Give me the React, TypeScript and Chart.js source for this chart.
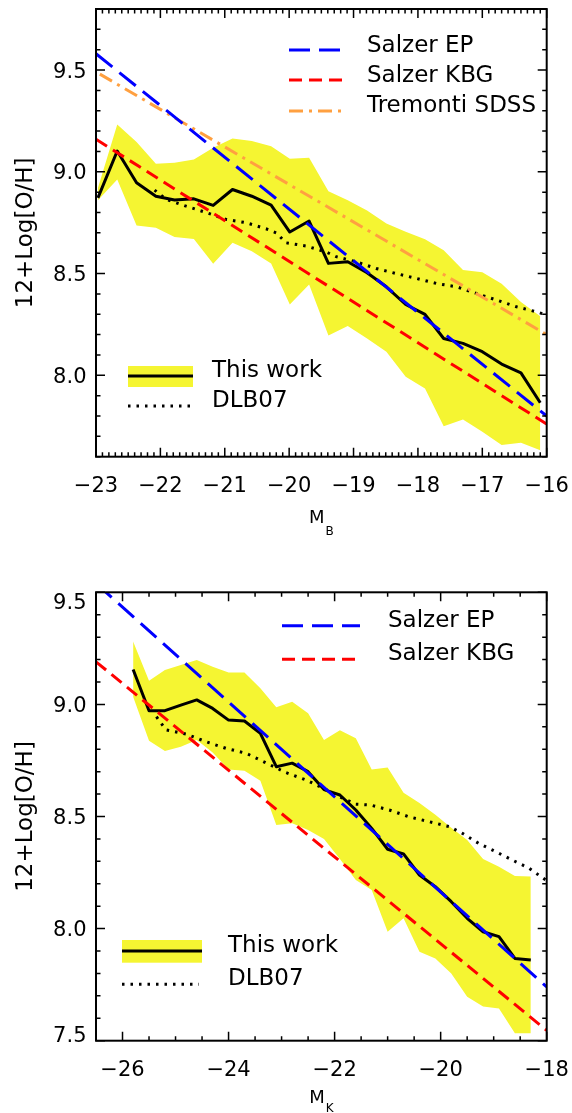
import React, { useEffect, useRef } from "react";
import { Chart, registerables } from "chart.js";
Chart.register(...registerables);

// ---------- Panel 1 : M_B ----------
const mbX = [-22.97, -22.67, -22.37, -22.07, -21.78, -21.48, -21.18, -20.88, -20.58, -20.28, -19.99, -19.69, -19.39, -19.09, -18.79, -18.49, -18.19, -17.89, -17.6, -17.3, -17.0, -16.7, -16.4, -16.1];
const mbLine = [8.872, 9.102, 8.946, 8.88, 8.861, 8.867, 8.835, 8.913, 8.88, 8.836, 8.704, 8.758, 8.55, 8.558, 8.504, 8.435, 8.348, 8.299, 8.181, 8.157, 8.116, 8.055, 8.012, 7.865];
const mbUpper = [8.92, 9.233, 9.146, 9.039, 9.044, 9.06, 9.118, 9.164, 9.151, 9.126, 9.064, 9.069, 8.905, 8.86, 8.81, 8.746, 8.705, 8.668, 8.615, 8.518, 8.506, 8.45, 8.36, 8.29];
const mbLower = [8.86, 8.962, 8.736, 8.725, 8.68, 8.67, 8.548, 8.651, 8.61, 8.55, 8.348, 8.446, 8.195, 8.242, 8.181, 8.116, 7.993, 7.935, 7.75, 7.783, 7.722, 7.657, 7.668, 7.632];
const mbDlbX = [-22.09, -21.91, -21.6, -21.29, -20.98, -20.67, -20.36, -20.2, -20.05, -19.73, -19.42, -19.27, -18.96, -18.65, -18.34, -18.02, -17.71, -17.4, -17.09, -16.78, -16.47, -16.16, -16.0];
const mbDlbY = [8.91, 8.864, 8.831, 8.8, 8.766, 8.75, 8.72, 8.70, 8.651, 8.635, 8.605, 8.583, 8.558, 8.525, 8.5, 8.476, 8.451, 8.435, 8.402, 8.37, 8.337, 8.312, 8.296];
const mbEpX = [-23, -16];
const mbEpY = [9.58, 7.8];
const mbKbgX = [-23, -16];
const mbKbgY = [9.16, 7.76];
const mbTremX = [-22.94, -16];
const mbTremY = [9.48, 8.2];
const mbXTicks = [-23, -22, -21, -20, -19, -18, -17, -16];
const mbYTicks = [8.0, 8.5, 9.0, 9.5];

// ---------- Panel 2 : M_K ----------
const mkX = [-25.8, -25.5, -25.2, -24.9, -24.6, -24.3, -24.0, -23.7, -23.4, -23.1, -22.8, -22.5, -22.2, -21.9, -21.6, -21.3, -21.0, -20.7, -20.4, -20.1, -19.8, -19.5, -19.2, -18.9, -18.6, -18.3];
const mkLine = [9.156, 8.972, 8.972, 8.997, 9.02, 8.982, 8.93, 8.926, 8.871, 8.722, 8.738, 8.7, 8.62, 8.596, 8.529, 8.447, 8.354, 8.333, 8.239, 8.187, 8.12, 8.046, 7.986, 7.964, 7.867, 7.86];
const mkUpper = [9.28, 9.106, 9.153, 9.176, 9.198, 9.168, 9.142, 9.142, 9.072, 8.987, 9.012, 8.96, 8.841, 8.885, 8.849, 8.71, 8.719, 8.606, 8.56, 8.508, 8.45, 8.395, 8.31, 8.276, 8.235, 8.232];
const mkLower = [9.034, 8.838, 8.792, 8.811, 8.841, 8.785, 8.71, 8.704, 8.66, 8.462, 8.47, 8.44, 8.4, 8.31, 8.217, 8.172, 7.986, 8.046, 7.897, 7.867, 7.8, 7.696, 7.652, 7.644, 7.533, 7.533];
const mkDlbX = [-25.36, -25.18, -24.8, -24.43, -24.05, -23.67, -23.3, -22.92, -22.54, -22.17, -21.98, -21.6, -21.32, -20.97, -20.6, -20.22, -19.84, -19.59, -19.28, -18.96, -18.65, -18.33, -18.02];
const mkDlbY = [8.945, 8.886, 8.868, 8.834, 8.804, 8.782, 8.74, 8.696, 8.663, 8.621, 8.596, 8.555, 8.551, 8.529, 8.499, 8.477, 8.455, 8.425, 8.38, 8.343, 8.306, 8.269, 8.217];
const mkEpX = [-26.5, -18];
const mkEpY = [9.54, 7.74];
const mkKbgX = [-26.5, -18];
const mkKbgY = [9.19, 7.546];
const mkXTicks = [-26, -24, -22, -20, -18];
const mkYTicks = [7.5, 8.0, 8.5, 9.0, 9.5];

const YELLOW = "rgb(245,245,50)";
const BLUE = "rgb(0,0,255)";
const RED = "rgb(255,0,0)";
const ORANGE = "rgb(255,160,64)";
const DASH_EP = [21, 9];
const DASH_KBG = [13, 7];
const DASH_TREM = [14, 6, 3, 6];
const DASH_DOT = [2.5, 6];
const FONT = '"DejaVu Sans", "Liberation Sans", sans-serif';

type RefLine = { label: string; x: number[]; y: number[]; color: string; dash: number[]; lx1: number; ly: number; base: number };

type Panel = {
  height: number;
  padTop: number;
  xHeight: number;
  xMin: number; xMax: number; xMinor: number; xMajor: number; xTicks: number[];
  yMin: number; yMax: number; yMinor: number; yMajor: number; yTicks: number[];
  x: number[]; line: number[]; upper: number[]; lower: number[];
  dlbX: number[]; dlbY: number[];
  refs: RefLine[];
  refX0: number; refTextX: number;
  box: { x: number; y: number; w: number; h: number; lineY: number; dotY: number; dotX1: number; textX: number; base1: number; base2: number };
  sub: string; titleBase: number; subBase: number;
};

const panel1: Panel = {
  height: 545, padTop: 9, xHeight: 88.3,
  xMin: -23, xMax: -16, xMinor: 0.1, xMajor: 1, xTicks: mbXTicks,
  yMin: 7.6, yMax: 9.8, yMinor: 0.1, yMajor: 0.5, yTicks: mbYTicks,
  x: mbX, line: mbLine, upper: mbUpper, lower: mbLower,
  dlbX: mbDlbX, dlbY: mbDlbY,
  refs: [
    { label: "Salzer EP", x: mbEpX, y: mbEpY, color: BLUE, dash: DASH_EP, lx1: 342, ly: 50, base: 52 },
    { label: "Salzer KBG", x: mbKbgX, y: mbKbgY, color: RED, dash: DASH_KBG, lx1: 342, ly: 80, base: 82 },
    { label: "Tremonti SDSS", x: mbTremX, y: mbTremY, color: ORANGE, dash: DASH_TREM, lx1: 347, ly: 111, base: 112 },
  ],
  refX0: 289, refTextX: 367,
  box: { x: 128, y: 366, w: 65, h: 21, lineY: 376, dotY: 406, dotX1: 191, textX: 212, base1: 377, base2: 407 },
  sub: "B", titleBase: 66.6, subBase: 78.3,
};

const panel2: Panel = {
  height: 568, padTop: 47.3, xHeight: 72.3,
  xMin: -26.5, xMax: -18, xMinor: 0.5, xMajor: 2, xTicks: mkXTicks,
  yMin: 7.5, yMax: 9.5, yMinor: 0.1, yMajor: 0.5, yTicks: mkYTicks,
  x: mkX, line: mkLine, upper: mkUpper, lower: mkLower,
  dlbX: mkDlbX, dlbY: mkDlbY,
  refs: [
    { label: "Salzer EP", x: mkEpX, y: mkEpY, color: BLUE, dash: DASH_EP, lx1: 360, ly: 80.7, base: 81.7 },
    { label: "Salzer KBG", x: mkKbgX, y: mkKbgY, color: RED, dash: DASH_KBG, lx1: 357, ly: 114.3, base: 115 },
  ],
  refX0: 282, refTextX: 388,
  box: { x: 122, y: 395, w: 80, h: 22.7, lineY: 406, dotY: 439.3, dotX1: 199, textX: 228, base1: 406.7, base2: 440 },
  sub: "K", titleBase: 62.5, subBase: 71,
};

const pts = (xs: number[], ys: number[]) => xs.map((x, i) => ({ x, y: ys[i] }));
const fmtX = (v: number) => (v < 0 ? "\u2212" + Math.abs(v) : String(v));

function makePlugin(p: Panel) {
  return {
    id: "idlFrame",
    afterDraw(chart: any) {
      const ctx: CanvasRenderingContext2D = chart.ctx;
      const { left, right, top, bottom } = chart.chartArea;
      const xs = chart.scales.x;
      const ys = chart.scales.y;
      ctx.save();
      // frame
      ctx.strokeStyle = "#000";
      ctx.lineWidth = 2;
      ctx.setLineDash([]);
      ctx.strokeRect(left, top, right - left, bottom - top);
      // ticks
      ctx.lineWidth = 1.5;
      const isMajor = (v: number, m: number) => Math.abs(v / m - Math.round(v / m)) < 1e-6;
      ctx.beginPath();
      for (let i = Math.ceil(p.xMin / p.xMinor - 1e-6); i <= Math.floor(p.xMax / p.xMinor + 1e-6); i++) {
        const v = i * p.xMinor;
        const px = xs.getPixelForValue(v);
        const len = isMajor(v, p.xMajor) ? 9 : 4.5;
        ctx.moveTo(px, bottom); ctx.lineTo(px, bottom - len);
        ctx.moveTo(px, top); ctx.lineTo(px, top + len);
      }
      for (let i = Math.ceil(p.yMin / p.yMinor - 1e-6); i <= Math.floor(p.yMax / p.yMinor + 1e-6); i++) {
        const v = i * p.yMinor;
        const py = ys.getPixelForValue(v);
        const len = isMajor(v, p.yMajor) ? 9 : 4.5;
        ctx.moveTo(left, py); ctx.lineTo(left + len, py);
        ctx.moveTo(right, py); ctx.lineTo(right - len, py);
      }
      ctx.stroke();

      // tick labels
      ctx.fillStyle = "#000";
      ctx.font = `21px ${FONT}`;
      ctx.textBaseline = "alphabetic";
      ctx.textAlign = "center";
      xs.ticks.forEach((t: any) => {
        ctx.fillText(fmtX(t.value), xs.getPixelForValue(t.value), bottom + 34.8);
      });
      ctx.textAlign = "right";
      ys.ticks.forEach((t: any) => {
        let cy = ys.getPixelForValue(t.value);
        cy = Math.max(top + 9.5, Math.min(bottom - 6.7, cy));
        ctx.fillText(t.value.toFixed(1), left - 9.5, cy + 7.6);
      });

      // y title
      ctx.save();
      ctx.translate(26, (top + bottom) / 2);
      ctx.rotate(-Math.PI / 2);
      ctx.textAlign = "center";
      ctx.textBaseline = "middle";
      ctx.font = `23px ${FONT}`;
      ctx.fillText("12+Log[O/H]", 0, 0);
      ctx.restore();

      // x title with subscript
      ctx.textAlign = "left";
      ctx.font = `18px ${FONT}`;
      const wM = ctx.measureText("M").width;
      ctx.font = `12px ${FONT}`;
      const wS = ctx.measureText(p.sub).width;
      const x0 = (left + right) / 2 - (wM + 1 + wS) / 2;
      ctx.font = `18px ${FONT}`;
      ctx.fillText("M", x0, bottom + p.titleBase);
      ctx.font = `12px ${FONT}`;
      ctx.fillText(p.sub, x0 + wM + 1, bottom + p.subBase);

      // reference legend (top right)
      ctx.font = `23px ${FONT}`;
      ctx.lineWidth = 3;
      ctx.lineCap = "butt";
      p.refs.forEach((r) => {
        ctx.strokeStyle = r.color;
        ctx.setLineDash(r.dash);
        ctx.beginPath();
        ctx.moveTo(p.refX0, r.ly);
        ctx.lineTo(r.lx1, r.ly);
        ctx.stroke();
        ctx.fillText(r.label, p.refTextX, r.base);
      });

      // this work / DLB07 legend
      const b = p.box;
      ctx.setLineDash([]);
      ctx.fillStyle = YELLOW;
      ctx.fillRect(b.x, b.y, b.w, b.h);
      ctx.strokeStyle = "#000";
      ctx.beginPath();
      ctx.moveTo(b.x, b.lineY);
      ctx.lineTo(b.x + b.w, b.lineY);
      ctx.stroke();
      ctx.setLineDash(DASH_DOT);
      ctx.beginPath();
      ctx.moveTo(b.x, b.dotY);
      ctx.lineTo(b.dotX1, b.dotY);
      ctx.stroke();
      ctx.setLineDash([]);
      ctx.fillStyle = "#000";
      ctx.fillText("This work", b.textX, b.base1);
      ctx.fillText("DLB07", b.textX, b.base2);
      ctx.restore();
    },
  };
}

function PanelChart({ p, top }: { p: Panel; top: number }) {
  const ref = useRef<HTMLCanvasElement | null>(null);
  useEffect(() => {
    if (!ref.current) return;
    const base = { pointRadius: 0, tension: 0, borderCapStyle: "butt" as const };
    const datasets: any[] = [
      ...p.refs.map((r) => ({
        ...base, label: r.label, data: pts(r.x, r.y), borderColor: r.color, borderDash: r.dash, borderWidth: 3, fill: false,
      })),
      { ...base, label: "DLB07", data: pts(p.dlbX, p.dlbY), borderColor: "#000", borderDash: DASH_DOT, borderWidth: 3, fill: false },
      { ...base, label: "This work", data: pts(p.x, p.line), borderColor: "#000", borderWidth: 3, fill: false, borderJoinStyle: "round" },
      { ...base, label: "upper", data: pts(p.x, p.upper), borderColor: "rgba(0,0,0,0)", borderWidth: 0, backgroundColor: YELLOW, fill: "+1" },
      { ...base, label: "lower", data: pts(p.x, p.lower), borderColor: "rgba(0,0,0,0)", borderWidth: 0, fill: false },
    ];
    const chart = new Chart(ref.current, {
      type: "line",
      data: { datasets },
      options: {
        animation: false,
        responsive: false,
        maintainAspectRatio: false,
        layout: { padding: { top: p.padTop, right: 25.3, bottom: 0, left: 0 } },
        plugins: { legend: { display: false }, tooltip: { enabled: false } },
        scales: {
          x: {
            type: "linear", min: p.xMin, max: p.xMax,
            grid: { display: false }, border: { display: false }, ticks: { display: false },
            afterBuildTicks: (s: any) => { s.ticks = p.xTicks.map((v) => ({ value: v })); },
            afterFit: (s: any) => { s.height = p.xHeight; },
          },
          y: {
            type: "linear", min: p.yMin, max: p.yMax,
            grid: { display: false }, border: { display: false }, ticks: { display: false },
            afterBuildTicks: (s: any) => { s.ticks = p.yTicks.map((v) => ({ value: v })); },
            afterFit: (s: any) => { s.width = 96; },
          },
        },
      } as any,
      plugins: [makePlugin(p)],
    });
    return () => chart.destroy();
  }, [p]);
  return (
    <canvas
      ref={ref}
      width={572}
      height={p.height}
      style={{ position: "absolute", left: 0, top, width: 572, height: p.height, display: "block" }}
    />
  );
}

export default function App() {
  return (
    <div style={{ position: "absolute", left: 0, top: 0, width: 572, height: 1113, background: "#fff" }}>
      <PanelChart p={panel1} top={0} />
      <PanelChart p={panel2} top={545} />
    </div>
  );
}
